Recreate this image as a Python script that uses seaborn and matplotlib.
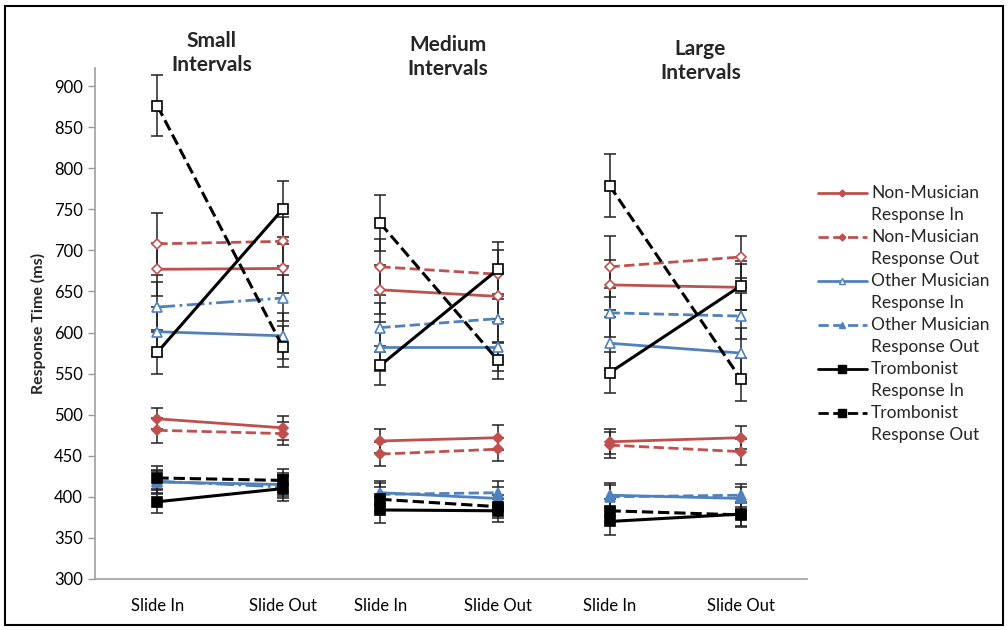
import numpy as np
import pandas as pd
import seaborn as sns
import matplotlib.pyplot as plt
from matplotlib.lines import Line2D
from matplotlib.patches import Rectangle

# Data

tick_labels = ['Slide In', 'Slide Out', 'Slide In', 'Slide Out', 'Slide In', 'Slide Out']
groups = ['Small', 'Small', 'Medium', 'Medium', 'Large', 'Large']
x_pos = [0, 1, 1.78, 2.72, 3.61, 4.66]

series = ['Non-Musician Response In', 'Non-Musician Response Out',
          'Other Musician Response In', 'Other Musician Response Out',
          'Trombonist Response In', 'Trombonist Response Out']

# upper cluster (open markers)
nm_in_hi = [677, 678, 652, 644, 658, 655]
nm_out_hi = [708, 711, 680, 671, 680, 692]
om_in_hi = [601, 596, 583, 583, 587, 575]
om_out_hi = [631, 642, 606, 617, 624, 620]
tb_in_hi = [576, 750, 560, 677, 551, 657]
tb_out_hi = [876, 583, 733, 566, 779, 543]

# lower cluster (filled markers)
nm_in_lo = [495, 484, 468, 472, 467, 472]
nm_out_lo = [481, 477, 452, 458, 463, 455]
om_in_lo = [418, 415, 405, 398, 402, 398]
om_out_lo = [419, 412, 403, 405, 400, 402]
tb_in_lo = [394, 410, 384, 383, 370, 379]
tb_out_lo = [423, 420, 397, 388, 383, 378]

# error bars
nm_in_hi_err = [32, 30, 30, 28, 30, 28]
nm_out_hi_err = [38, 30, 34, 30, 37, 26]
om_in_hi_err = [30, 28, 30, 30, 32, 30]
om_out_hi_err = [30, 28, 30, 30, 30, 28]
tb_in_hi_err = [27, 34, 24, 33, 25, 30]
tb_out_hi_err = [37, 25, 34, 23, 38, 26]

nm_in_lo_err = [13, 15, 15, 15, 15, 14]
nm_out_lo_err = [15, 14, 15, 14, 16, 16]
om_in_lo_err = [14, 14, 14, 14, 15, 14]
om_out_lo_err = [14, 14, 14, 14, 14, 14]
tb_in_lo_err = [14, 15, 16, 14, 16, 15]
tb_out_lo_err = [14, 14, 15, 14, 14, 15]

hi_vals = [nm_in_hi, nm_out_hi, om_in_hi, om_out_hi, tb_in_hi, tb_out_hi]
lo_vals = [nm_in_lo, nm_out_lo, om_in_lo, om_out_lo, tb_in_lo, tb_out_lo]
hi_errs = [nm_in_hi_err, nm_out_hi_err, om_in_hi_err, om_out_hi_err, tb_in_hi_err, tb_out_hi_err]
lo_errs = [nm_in_lo_err, nm_out_lo_err, om_in_lo_err, om_out_lo_err, tb_in_lo_err, tb_out_lo_err]

red = '#C0504D'
blue = '#4F81BD'
colors = [red, red, blue, blue, 'black', 'black']
styles = ['-', '--', '-', '--', '-', '--']
markers = ['D', 'D', '^', '^', 's', 's']
msizes = [5, 5, 6.5, 6.5, 7, 7]
lwidths = [2, 2, 2, 2, 2.2, 2.2]

rows = []
for i, s in enumerate(series):
    for level, vals, errs in [('hi', hi_vals[i], hi_errs[i]), ('lo', lo_vals[i], lo_errs[i])]:
        for j in range(6):
            rows.append({'series': s, 'level': level, 'group': groups[j],
                         'x': x_pos[j], 'rt': vals[j], 'err': errs[j]})
df = pd.DataFrame(rows)

# Plot

sns.set_style('white')
plt.rcParams['font.family'] = ['Lato', 'DejaVu Sans']

W, H = 1008, 630
fig = plt.figure(figsize=(W / 100, H / 100), dpi=100)
ax = fig.add_axes([0.094, 0.081, 0.707, 0.811])

for i, s in enumerate(series):
    for level in ['hi', 'lo']:
        for g in ['Small', 'Medium', 'Large']:
            d = df[(df['series'] == s) & (df['level'] == level) & (df['group'] == g)]
            ax.errorbar(d['x'], d['rt'], yerr=d['err'], fmt='none', ecolor='#222222',
                        elinewidth=1.1, capsize=4, capthick=1.1, zorder=1)
            ls = styles[i]
            if s == 'Other Musician Response Out' and g == 'Small':
                ls = '-.'
            face = 'white' if level == 'hi' else colors[i]
            sns.lineplot(data=d, x='x', y='rt', ax=ax, color=colors[i], linestyle=ls,
                         linewidth=lwidths[i], marker=markers[i], markersize=msizes[i],
                         markerfacecolor=face, markeredgecolor=colors[i], markeredgewidth=1.2,
                         errorbar=None, zorder=3)

ax.set_xlim(-0.5, 5.19)
ax.set_ylim(300, 922)
ax.set_yticks(range(300, 901, 50))
ax.set_xticks(x_pos)
ax.set_xticklabels(tick_labels)
ax.tick_params(axis='both', labelsize=12, colors='#404040', labelcolor='black')
ax.tick_params(axis='y', direction='out', length=5, width=1, color='#999999', left=True)
ax.tick_params(axis='x', length=0, pad=14)
ax.set_xlabel('')
ax.set_ylabel('Response Time (ms)', fontsize=11.5, fontweight='bold', labelpad=6)

for side in ['top', 'right']:
    ax.spines[side].set_visible(False)
for side in ['left', 'bottom']:
    ax.spines[side].set_color('#a0a0a0')
    ax.spines[side].set_linewidth(1.2)

# interval group titles
fig.text(0.210, 0.916, 'Small\nIntervals', ha='center', va='center', fontsize=15,
         fontweight='bold', linespacing=1.25)
fig.text(0.444, 0.910, 'Medium\nIntervals', ha='center', va='center', fontsize=15,
         fontweight='bold', linespacing=1.25)
fig.text(0.695, 0.903, 'Large\nIntervals', ha='center', va='center', fontsize=15,
         fontweight='bold', linespacing=1.25)

# legend (Excel style: handle on first text line, uniform line spacing)
for i, s in enumerate(series):
    py = 193 + 44 * i
    fy = 1 - py / H
    face = 'white' if i == 2 else colors[i]
    fig.add_artist(Line2D([818 / W, 842 / W, 867 / W], [fy, fy, fy], transform=fig.transFigure,
                          color=colors[i], linestyle=styles[i], linewidth=2,
                          marker=markers[i], markevery=[1], markersize=msizes[i] - 1.5,
                          markerfacecolor=face, markeredgecolor=colors[i]))
    first, second = s.split(' Response')
    fig.text(871 / W, fy, first, ha='left', va='center', fontsize=12.5)
    fig.text(871 / W, 1 - (py + 22) / H, 'Response' + second, ha='left', va='center',
             fontsize=12.5)

# outer border
fig.patches.append(Rectangle((0.005, 0.008), 0.99, 0.983, transform=fig.transFigure,
                             fill=False, edgecolor='black', linewidth=1.5))

fig.savefig('out.png', dpi=100)
